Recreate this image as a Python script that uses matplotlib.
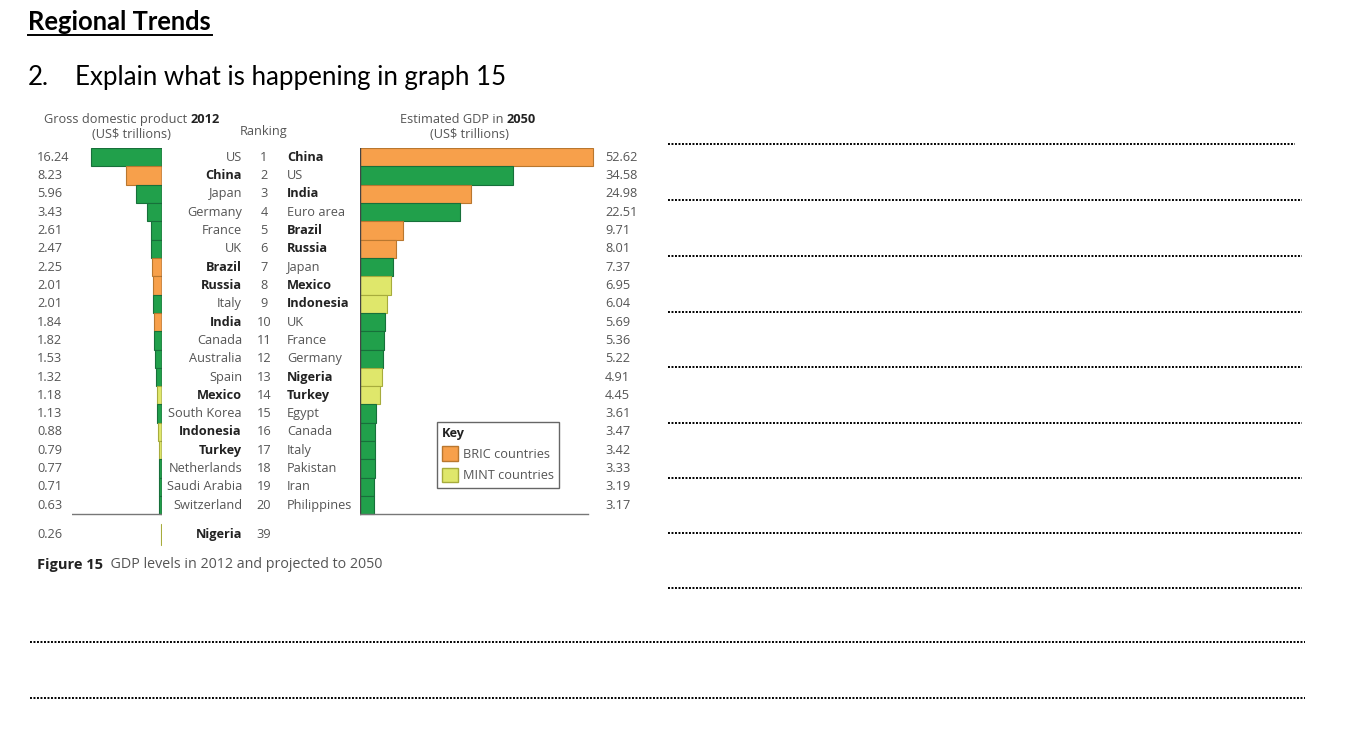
import matplotlib
matplotlib.use("Agg")
import matplotlib.pyplot as plt
from matplotlib.transforms import blended_transform_factory
from matplotlib.patches import Patch
from matplotlib.lines import Line2D

# ---------------- data ----------------
countries_2012 = ["US", "China", "Japan", "Germany", "France", "UK", "Brazil", "Russia",
                  "Italy", "India", "Canada", "Australia", "Spain", "Mexico", "South Korea",
                  "Indonesia", "Turkey", "Netherlands", "Saudi Arabia", "Switzerland"]
gdp_2012 = [16.24, 8.23, 5.96, 3.43, 2.61, 2.47, 2.25, 2.01, 2.01, 1.84, 1.82, 1.53,
            1.32, 1.18, 1.13, 0.88, 0.79, 0.77, 0.71, 0.63]
group_2012 = ["O", "B", "O", "O", "O", "O", "B", "B", "O", "B", "O", "O", "O", "M", "O",
              "M", "M", "O", "O", "O"]

countries_2050 = ["China", "US", "India", "Euro area", "Brazil", "Russia", "Japan", "Mexico",
                  "Indonesia", "UK", "France", "Germany", "Nigeria", "Turkey", "Egypt",
                  "Canada", "Italy", "Pakistan", "Iran", "Philippines"]
gdp_2050 = [52.62, 34.58, 24.98, 22.51, 9.71, 8.01, 7.37, 6.95, 6.04, 5.69, 5.36, 5.22,
            4.91, 4.45, 3.61, 3.47, 3.42, 3.33, 3.19, 3.17]
group_2050 = ["B", "O", "B", "O", "B", "B", "O", "M", "M", "O", "O", "O", "M", "M", "O",
              "O", "O", "O", "O", "O"]

ranks = list(range(1, 21))
extra_country = "Nigeria"
extra_gdp_2012 = 0.26
extra_rank = 39
extra_group = "M"

title = "Regional Trends"
question_num = "2."
question = "Explain what is happening in graph 15"

# ---------------- style ----------------
fill = {"O": "#21a04b", "B": "#f7a04b", "M": "#dfe76b"}
edge = {"O": "#17703a", "B": "#b9772f", "M": "#a7ac3c"}
grey = "#555555"
dark = "#222222"
cfont = "Open Sans"
hfont = "Lato"
fs = 9.2

W, H = 1347, 733
fig = plt.figure(figsize=(W / 100, H / 100), dpi=100)
bg = fig.add_axes([0, 0, 1, 1])
bg.set_xlim(0, W)
bg.set_ylim(H, 0)
bg.axis("off")


def fax(x0, y0, x1, y1):
    return fig.add_axes([x0 / W, 1 - y1 / H, (x1 - x0) / W, (y1 - y0) / H])


row_px = 18.32
top_px = 148
bot_px = 548
ymax = -0.5 + (bot_px - top_px) / row_px
nig_pos = 19 + (534 - 505) / row_px

axL = fax(72, top_px, 162, bot_px)
axR = fax(360, top_px, 595, bot_px)
axL.set_xlim(20.6, 0)
axR.set_xlim(0, 53)
for a in (axL, axR):
    a.set_ylim(ymax, -0.5)
    a.axis("off")

ypos = list(range(20))
axL.barh(ypos, gdp_2012, height=1.0, color=[fill[g] for g in group_2012],
         edgecolor=[edge[g] for g in group_2012], linewidth=0.8, zorder=2)
axL.barh([nig_pos], [extra_gdp_2012], height=1.15, color=fill[extra_group],
         edgecolor=edge[extra_group], linewidth=0.8, zorder=4)
axR.barh(ypos, gdp_2050, height=1.0, color=[fill[g] for g in group_2050],
         edgecolor=[edge[g] for g in group_2050], linewidth=0.8, zorder=2)

# axis lines
axL.plot([0, 0], [-0.5, 19.5], color="#444444", lw=1.0, zorder=3)
axL.plot([20.6, 0], [19.5, 19.5], color="#777777", lw=1.0, zorder=3)
axR.plot([0, 0], [-0.5, 19.5], color="#444444", lw=1.0, zorder=3)
axR.plot([0, (588 - 360) / 4.43], [19.5, 19.5], color="#777777", lw=1.0, zorder=3)

tr = blended_transform_factory(bg.transData, axL.transData)
for i in range(20):
    y = ypos[i]
    b1 = group_2012[i] != "O"
    b2 = group_2050[i] != "O"
    bg.text(37, y, f"{gdp_2012[i]:.2f}", transform=tr, ha="left", va="center",
            fontsize=fs, color=grey, family=cfont)
    bg.text(242, y, countries_2012[i], transform=tr, ha="right", va="center",
            fontsize=fs, color=dark if b1 else grey, family=cfont,
            weight="bold" if b1 else "normal")
    bg.text(264, y, str(ranks[i]), transform=tr, ha="center", va="center",
            fontsize=fs, color=grey, family=cfont)
    bg.text(287, y, countries_2050[i], transform=tr, ha="left", va="center",
            fontsize=fs, color=dark if b2 else grey, family=cfont,
            weight="bold" if b2 else "normal")
    bg.text(605, y, f"{gdp_2050[i]:.2f}", transform=tr, ha="left", va="center",
            fontsize=fs, color=grey, family=cfont)

bg.text(37, nig_pos, f"{extra_gdp_2012:.2f}", transform=tr, ha="left", va="center",
        fontsize=fs, color=grey, family=cfont)
bg.text(242, nig_pos, extra_country, transform=tr, ha="right", va="center",
        fontsize=fs, color=dark, family=cfont, weight="bold")
bg.text(264, nig_pos, str(extra_rank), transform=tr, ha="center", va="center",
        fontsize=fs, color=grey, family=cfont)

# headers
t1 = bg.text(44, 126, "Gross domestic product ", ha="left", va="bottom",
             fontsize=fs, color=grey, family=cfont)
bg.annotate("2012", xy=(1, 0), xycoords=t1, ha="left", va="bottom",
            fontsize=fs, color=dark, family=cfont, weight="bold")
bg.text(132, 135, "(US$ trillions)", ha="center", va="center", fontsize=fs,
        color=grey, family=cfont)
bg.text(264, 132, "Ranking", ha="center", va="center", fontsize=fs,
        color=grey, family=cfont)
t2 = bg.text(400, 126, "Estimated GDP in ", ha="left", va="bottom",
             fontsize=fs, color=grey, family=cfont)
bg.annotate("2050", xy=(1, 0), xycoords=t2, ha="left", va="bottom",
            fontsize=fs, color=dark, family=cfont, weight="bold")
bg.text(470, 135, "(US$ trillions)", ha="center", va="center", fontsize=fs,
        color=grey, family=cfont)

# caption
t3 = bg.text(37, 572, "Figure 15", ha="left", va="bottom", fontsize=10.5,
             color=dark, family=cfont, weight="bold")
bg.annotate("  GDP levels in 2012 and projected to 2050", xy=(1, 0), xycoords=t3,
            ha="left", va="bottom", fontsize=10.3, color=grey, family=cfont)

# key
leg = axR.legend(handles=[Patch(facecolor=fill["B"], edgecolor=edge["B"], label="BRIC countries"),
                          Patch(facecolor=fill["M"], edgecolor=edge["M"], label="MINT countries")],
                 title="Key", loc="upper left", bbox_to_anchor=(437, 422),
                 bbox_transform=bg.transData, borderaxespad=0, fancybox=False,
                 edgecolor="#666666", framealpha=1, handlelength=1.25, handleheight=1.4,
                 handletextpad=0.4, labelspacing=0.5, borderpad=0.4,
                 prop={"family": cfont, "size": fs}, labelcolor=grey,
                 title_fontproperties={"family": cfont, "size": fs, "weight": "bold"},
                 alignment="left")
leg.get_frame().set_linewidth(1.0)
leg.get_title().set_color(dark)

# page text
bg.text(28, 22, title, ha="left", va="center", fontsize=18.4, weight="bold",
        family=hfont, color="black")
bg.plot([28, 212], [34.5, 34.5], color="black", lw=1.4)
bg.text(28, 85, question_num, ha="left", va="baseline", fontsize=18.6, family=hfont,
        color="black")
bg.text(75, 85, question, ha="left", va="baseline", fontsize=18.6, family=hfont,
        color="black")

# answer lines
right_lines_y = [144, 200, 256, 312, 367, 423, 478, 533, 588]
for k, y in enumerate(right_lines_y):
    x1 = 1295 if k == 0 else 1302
    bg.add_line(Line2D([668, x1], [y, y], color="black", lw=1.4,
                       linestyle=(0, (1, 0.8)), dash_capstyle="butt"))
for y in [642, 698]:
    bg.add_line(Line2D([30, 1305], [y, y], color="black", lw=1.4,
                       linestyle=(0, (1, 0.8)), dash_capstyle="butt"))

fig.savefig("out.png", dpi=100, facecolor="white")
